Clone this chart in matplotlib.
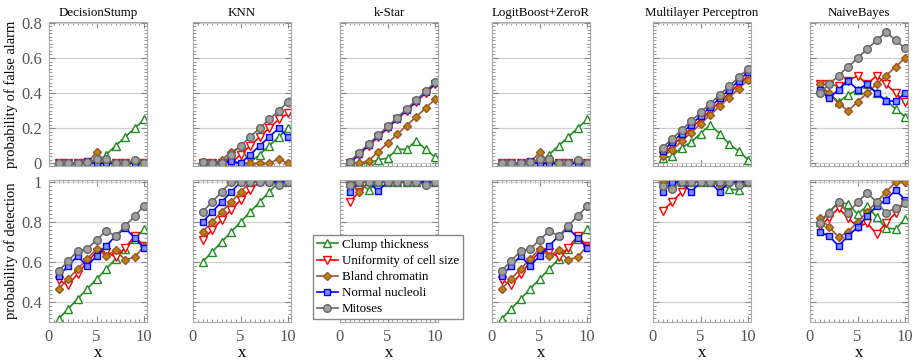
import matplotlib
matplotlib.use("Agg")
import matplotlib.pyplot as plt
from matplotlib.ticker import MultipleLocator

# abscisse commune
x = [1, 2, 3, 4, 5, 6, 7, 8, 9, 10]

classifieurs = ["DecisionStump", "KNN", "k-Star", "LogitBoost+ZeroR",
                "Multilayer Perceptron", "NaiveBayes"]
attributs = ["Clump thickness", "Uniformity of cell size", "Bland chromatin",
             "Normal nucleoli", "Mitoses"]

## probabilite de fausse alarme (une liste par attribut, dans l'ordre ci-dessus)
fa_decisionstump = [
    [0, 0, 0, 0, 0, 0.05, 0.10, 0.15, 0.20, 0.25],
    [0, 0, 0, 0, 0, 0, 0, 0, 0, 0],
    [0, 0, 0, 0, 0.065, 0, 0, 0, 0.01, 0],
    [0, 0, 0, 0.012, 0, 0, 0, 0, 0, 0],
    [0, 0, 0, 0.005, 0.025, 0.025, 0, 0, 0.02, 0],
]
fa_knn = [
    [0, 0, 0, 0, 0, 0.005, 0.05, 0.10, 0.15, 0.20],
    [0, 0, 0, 0, 0.05, 0.10, 0.15, 0.20, 0.25, 0.285],
    [0, 0, 0.02, 0.065, 0.095, 0, 0, 0, 0.025, 0],
    [0, 0, 0, 0.015, 0, 0.05, 0.10, 0.15, 0.20, 0.15],
    [0.01, 0, 0, 0.05, 0.10, 0.15, 0.20, 0.25, 0.30, 0.35],
]
fa_kstar = [
    [0.01, 0, 0, 0.02, 0.03, 0.08, 0.08, 0.13, 0.08, 0.035],
    [0, 0.05, 0.10, 0.15, 0.20, 0.25, 0.30, 0.35, 0.40, 0.45],
    [0.01, 0, 0.015, 0.065, 0.115, 0.165, 0.215, 0.265, 0.315, 0.365],
    [0.005, 0.055, 0.105, 0.155, 0.205, 0.255, 0.305, 0.355, 0.405, 0.455],
    [0.01, 0.06, 0.11, 0.16, 0.21, 0.26, 0.31, 0.36, 0.41, 0.465],
]
fa_logitboost = [
    [0, 0, 0, 0, 0, 0.05, 0.10, 0.15, 0.20, 0.25],
    [0, 0, 0, 0, 0, 0, 0, 0, 0, 0],
    [0, 0, 0, 0, 0.065, 0, 0, 0, 0.01, 0],
    [0, 0, 0, 0.012, 0, 0, 0, 0, 0, 0],
    [0, 0, 0, 0.005, 0.025, 0.025, 0, 0, 0.02, 0],
]
fa_mlp = [
    [0.03, 0.04, 0.09, 0.12, 0.17, 0.22, 0.17, 0.11, 0.07, 0.02],
    [0.05, 0.10, 0.15, 0.20, 0.25, 0.30, 0.35, 0.40, 0.45, 0.50],
    [0.04, 0.075, 0.125, 0.175, 0.225, 0.275, 0.325, 0.375, 0.425, 0.475],
    [0.07, 0.12, 0.17, 0.22, 0.27, 0.32, 0.37, 0.42, 0.47, 0.52],
    [0.09, 0.14, 0.19, 0.24, 0.29, 0.34, 0.39, 0.44, 0.49, 0.54],
]
fa_naivebayes = [
    [0.43, 0.40, 0.35, 0.39, 0.42, 0.45, 0.40, 0.36, 0.31, 0.265],
    [0.45, 0.45, 0.44, 0.47, 0.50, 0.45, 0.50, 0.45, 0.40, 0.35],
    [0.45, 0.40, 0.34, 0.30, 0.35, 0.40, 0.45, 0.50, 0.55, 0.60],
    [0.42, 0.37, 0.42, 0.47, 0.42, 0.45, 0.40, 0.355, 0.355, 0.40],
    [0.40, 0.45, 0.50, 0.55, 0.60, 0.65, 0.70, 0.75, 0.70, 0.655],
]

## probabilite de detection
pd_decisionstump = [
    [0.315, 0.365, 0.415, 0.465, 0.515, 0.565, 0.615, 0.665, 0.715, 0.765],
    [0.51, 0.485, 0.54, 0.60, 0.65, 0.65, 0.625, 0.67, 0.73, 0.68],
    [0.465, 0.515, 0.565, 0.615, 0.665, 0.63, 0.66, 0.61, 0.625, 0.68],
    [0.53, 0.58, 0.63, 0.58, 0.63, 0.68, 0.73, 0.77, 0.72, 0.67],
    [0.555, 0.605, 0.655, 0.665, 0.71, 0.755, 0.73, 0.78, 0.83, 0.88],
]
pd_knn = [
    [0.60, 0.65, 0.70, 0.75, 0.80, 0.85, 0.90, 0.95, 1, 1],
    [0.71, 0.76, 0.81, 0.86, 0.91, 0.96, 1, 1, 1, 1],
    [0.75, 0.80, 0.85, 0.90, 0.95, 1, 1, 1, 1, 1],
    [0.80, 0.85, 0.90, 0.95, 1, 1, 1, 1, 1, 1],
    [0.85, 0.90, 0.95, 1, 1, 1, 1, 1, 0.985, 1],
]
pd_kstar = [
    [0.995, 1, 0.96, 1, 1, 1, 1, 1, 1, 1],
    [0.90, 0.95, 1, 1, 1, 1, 1, 1, 1, 1],
    [1, 0.95, 1, 1, 1, 1, 1, 1, 1, 1],
    [0.95, 1, 1, 0.955, 1, 1, 1, 1, 1, 1],
    [0.985, 1, 1, 1, 1, 1, 1, 1, 0.985, 1],
]
pd_logitboost = [
    [0.315, 0.365, 0.415, 0.465, 0.515, 0.565, 0.615, 0.665, 0.715, 0.765],
    [0.51, 0.485, 0.54, 0.60, 0.65, 0.65, 0.625, 0.67, 0.73, 0.68],
    [0.465, 0.515, 0.565, 0.615, 0.665, 0.63, 0.66, 0.61, 0.625, 0.68],
    [0.53, 0.58, 0.63, 0.58, 0.63, 0.68, 0.73, 0.77, 0.72, 0.67],
    [0.555, 0.605, 0.655, 0.665, 0.71, 0.755, 0.73, 0.78, 0.83, 0.88],
]
pd_mlp = [
    [1, 0.99, 1, 1, 1, 1, 1, 0.965, 0.96, 1],
    [0.855, 0.90, 0.95, 1, 1, 1, 0.99, 1, 1, 1],
    [1, 1, 1, 1, 1, 1, 0.985, 1, 1, 1],
    [0.95, 1, 1, 0.95, 1, 1, 0.95, 1, 1, 1],
    [0.98, 0.965, 1, 1, 1, 1, 1, 1, 0.985, 1],
]
pd_naivebayes = [
    [0.80, 0.85, 0.90, 0.89, 0.84, 0.88, 0.825, 0.77, 0.765, 0.815],
    [0.78, 0.82, 0.87, 0.82, 0.775, 0.795, 0.74, 0.795, 0.845, 0.90],
    [0.82, 0.775, 0.725, 0.75, 0.80, 0.85, 0.90, 0.95, 1, 1],
    [0.75, 0.73, 0.68, 0.73, 0.775, 0.83, 0.88, 0.91, 0.96, 0.91],
    [0.795, 0.845, 0.90, 0.845, 0.90, 0.945, 0.90, 0.845, 0.87, 0.895],
]

fa = [fa_decisionstump, fa_knn, fa_kstar, fa_logitboost, fa_mlp, fa_naivebayes]
pd_ = [pd_decisionstump, pd_knn, pd_kstar, pd_logitboost, pd_mlp, pd_naivebayes]

# style de chaque attribut : couleur du trait, marqueur, remplissage, taille
styles = [
    ("#228b22", "^", "white", 5.5),
    ("#ff0000", "v", "white", 5.5),
    ("#a0522d", "D", "#b8860b", 4.0),
    ("#0000ff", "s", "#7f8fff", 5.0),
    ("#666666", "o", "#a0a0a0", 5.5),
]

plt.rcParams['font.family'] = ['Liberation Serif', 'DejaVu Serif']
plt.rcParams['font.size'] = 10

W, H = 920, 361
fig = plt.figure(figsize=(W / 100, H / 100), dpi=100)

# positions des colonnes en pixels (bord gauche), largeur commune
gauches = [49, 193, 340, 492, 653, 810]
largeur = 98


def habille(ax):
    # grille horizontale, ticks vers l'interieur sur les 4 cotes
    ax.set_xlim(0, 10.3)
    ax.xaxis.set_major_locator(MultipleLocator(5))
    ax.xaxis.set_minor_locator(MultipleLocator(0.5))
    ax.yaxis.set_minor_locator(MultipleLocator(0.02))
    ax.grid(axis="y", color="#d0d0d0", lw=0.9)
    ax.set_axisbelow(True)
    ax.tick_params(which="both", direction="in", top=True, right=True,
                   colors="#888888", labelcolor="#555555", labelsize=12)
    ax.tick_params(which="major", length=4, pad=5)
    ax.tick_params(which="minor", length=2)
    for s in ax.spines.values():
        s.set_color("#aaaaaa")
        s.set_linewidth(0.8)


lignes = []
for j in range(6):
    g = gauches[j] / W
    ax1 = fig.add_axes([g, 1 - 166 / H, largeur / W, 144 / H])
    ax2 = fig.add_axes([g, 1 - 322 / H, largeur / W, 142 / H])
    for k in range(5):
        c, m, fc, ms = styles[k]
        ax1.plot(x, fa[j][k], color=c, marker=m, mfc=fc, mec=c, ms=ms,
                 mew=1, lw=1.2)
        l, = ax2.plot(x, pd_[j][k], color=c, marker=m, mfc=fc, mec=c, ms=ms,
                      mew=1, lw=1.2)
        if j == 0:
            lignes.append(l)
    habille(ax1)
    habille(ax2)
    ax1.set_ylim(-0.015, 0.805)
    ax2.set_ylim(0.3, 1.01)
    ax1.set_yticks([0, 0.2, 0.4, 0.6, 0.8])
    ax1.set_yticklabels(["0", "0.2", "0.4", "0.6", "0.8"])
    ax2.set_yticks([0.4, 0.6, 0.8, 1.0])
    ax2.set_yticklabels(["0.4", "0.6", "0.8", "1"])
    ax1.set_xticklabels([])
    ax1.set_title(classifieurs[j], fontsize=9.3, pad=4)
    ax2.set_xlabel("x", fontsize=12, labelpad=0)
    if j == 0:
        ax1.set_ylabel("probability of false alarm", fontsize=10.5, labelpad=2)
        ax2.set_ylabel("probability of detection", fontsize=10.5, labelpad=2)
    else:
        ax1.set_yticklabels([])
        ax2.set_yticklabels([])

leg = fig.legend(lignes, attributs, loc="upper left",
                 bbox_to_anchor=(313 / W, 1 - 235 / H), fontsize=9.4,
                 handlelength=1.6, handletextpad=0.3, labelspacing=0.3,
                 borderpad=0.3, borderaxespad=0, fancybox=False,
                 framealpha=1, edgecolor="#888888")

fig.savefig("out.png", dpi=100)
